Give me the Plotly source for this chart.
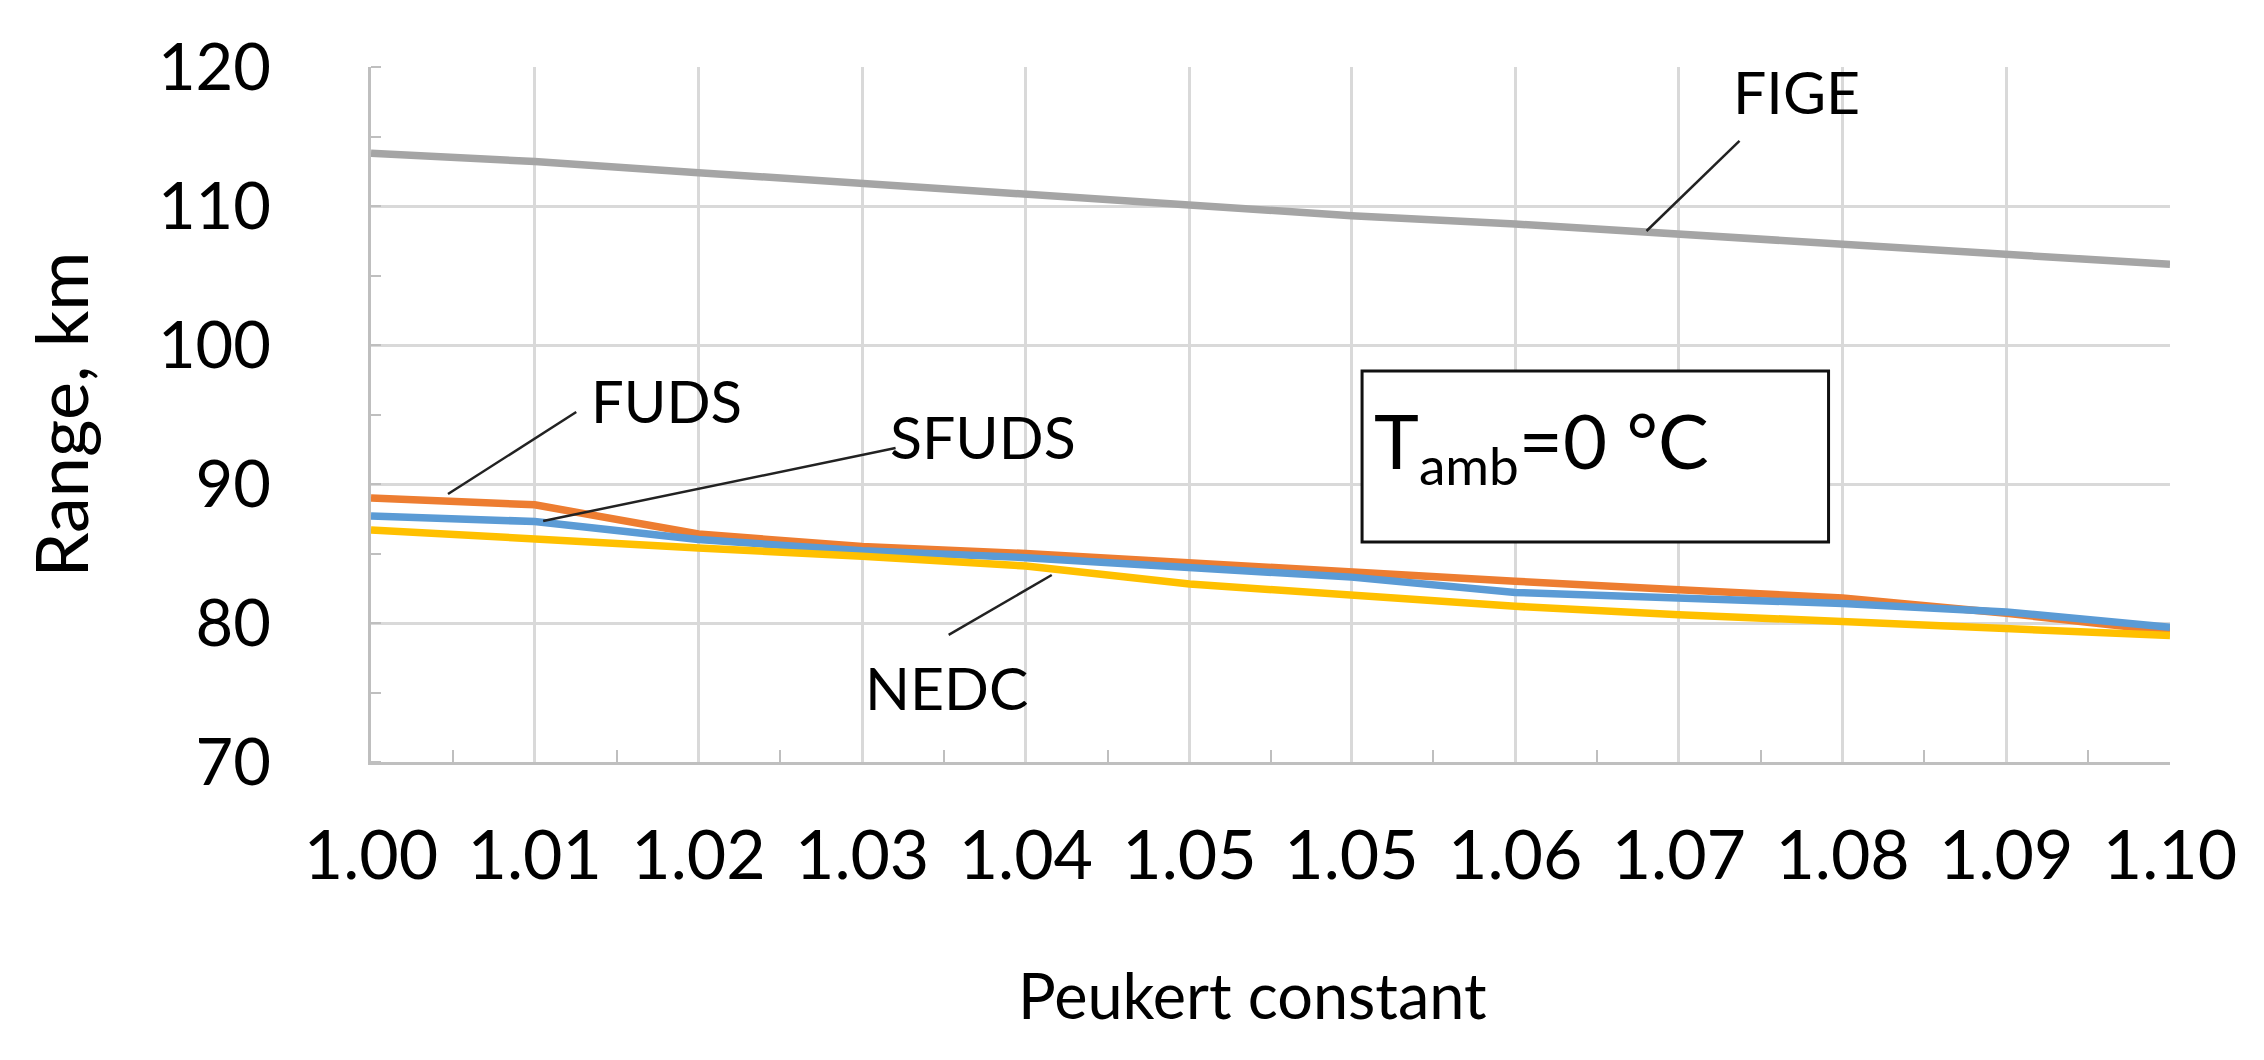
import plotly.graph_objects as go

# ---- data -------------------------------------------------------------
peukert = [1.0000, 1.0091, 1.0182, 1.0273, 1.0364, 1.0455,
           1.0545, 1.0636, 1.0727, 1.0818, 1.0909, 1.1000]
tick_labels = ["1.00", "1.01", "1.02", "1.03", "1.04", "1.05",
               "1.05", "1.06", "1.07", "1.08", "1.09", "1.10"]

fuds = [89.0, 88.5, 86.4, 85.5, 85.0, 84.3, 83.6, 83.0, 82.4, 81.8, 80.7, 79.4]
sfuds = [87.7, 87.3, 86.0, 85.2, 84.7, 84.0, 83.3, 82.2, 81.8, 81.4, 80.8, 79.7]
nedc = [86.7, 86.0, 85.4, 84.8, 84.1, 82.8, 82.0, 81.2, 80.6, 80.1, 79.5, 79.1]
fige = [113.8, 113.2, 112.4, 111.6, 110.8, 110.0, 109.3, 108.7, 108.0, 107.2, 106.5, 105.8]

series_names = ["FUDS", "SFUDS", "NEDC", "FIGE"]
series_values = [fuds, sfuds, nedc, fige]
series_colors = ["#ED7D31", "#5B9BD5", "#FFC000", "#A5A5A5"]

FONT = "Lato"
GRID = "#D9D9D9"
AXIS = "#BFBFBF"

fig = go.Figure()
for name, vals, col in zip(series_names, series_values, series_colors):
    fig.add_trace(go.Scatter(x=peukert, y=vals, mode="lines", name=name,
                             line=dict(color=col, width=7.5), showlegend=False))

mid_ticks = [(a + b) / 2 for a, b in zip(peukert[:-1], peukert[1:])]

fig.update_xaxes(range=[1.0, 1.1], tickmode="array", tickvals=peukert, ticktext=tick_labels,
                 showgrid=True, gridcolor=GRID, gridwidth=3, zeroline=False,
                 showline=True, linecolor=AXIS, linewidth=3, ticks="",
                 ticklabelstandoff=32,
                 tickfont=dict(family=FONT, size=68, color="#000000"),
                 minor=dict(tickmode="array", tickvals=mid_ticks, ticks="inside",
                            ticklen=12, tickwidth=2, tickcolor=AXIS, showgrid=False))
fig.update_yaxes(range=[70, 120], tickmode="array", tickvals=[70, 80, 90, 100, 110, 120],
                 showgrid=True, gridcolor=GRID, gridwidth=3, zeroline=False,
                 showline=True, linecolor=AXIS, linewidth=3, ticks="",
                 ticklabelstandoff=84,
                 tickfont=dict(family=FONT, size=65, color="#000000"),
                 minor=dict(dtick=5, tick0=75, ticks="inside", ticklen=10, tickwidth=2,
                            tickcolor=AXIS, showgrid=False))

# leader lines (label -> curve)
leaders = [
    (1.00428, 89.28, 1.01141, 95.18),
    (1.00957, 87.34, 1.02916, 92.59),
    (1.03211, 79.14, 1.03784, 83.45),
    (1.07090, 108.20, 1.07607, 114.68),
]
for x0, y0, x1, y1 in leaders:
    fig.add_shape(type="line", x0=x0, y0=y0, x1=x1, y1=y1, xref="x", yref="y",
                  line=dict(color="#222222", width=2.5), layer="above")

# temperature box
fig.add_shape(type="rect", x0=1.05509, x1=1.08102, y0=85.83, y1=98.13, xref="x", yref="y",
              fillcolor="white", line=dict(color="#111111", width=3), layer="above")

annos = [
    dict(x=1.01642, y=95.18, text="FUDS", xanchor="center", size=58, xs=0, ys=12),
    dict(x=1.02916, y=92.59, text="SFUDS", xanchor="left", size=59, xs=-8, ys=12),
    dict(x=1.03222, y=74.53, text="NEDC", xanchor="center", size=59, xs=-4, ys=12),
    dict(x=1.07935, y=117.34, text="FIGE", xanchor="center", size=59, xs=-2, ys=12),
    dict(x=1.05648, y=91.51, text="T<sub>amb</sub>=0 °C", xanchor="left", size=76, xs=-15, ys=18),
]
for a in annos:
    fig.add_annotation(x=a["x"], y=a["y"], xref="x", yref="y", text=a["text"],
                       showarrow=False, xanchor=a["xanchor"], yanchor="middle",
                       xshift=a["xs"], yshift=a["ys"],
                       font=dict(family=FONT, size=a["size"], color="#000000"))

# axis titles
fig.add_annotation(x=0.5, y=0, xref="paper", yref="paper", yshift=-232, xshift=-18,
                   text="Peukert constant", showarrow=False, xanchor="center", yanchor="middle",
                   font=dict(family=FONT, size=63, color="#000000"))
fig.add_annotation(x=0, y=0.5, xref="paper", yref="paper", xshift=-312, text="Range, km",
                   textangle=-90, showarrow=False, xanchor="center", yanchor="middle",
                   font=dict(family=FONT, size=72, color="#000000"))

fig.update_layout(width=2264, height=1060, margin=dict(l=363, r=102, t=59, b=306),
                  paper_bgcolor="white", plot_bgcolor="white", showlegend=False)

fig.write_html("out.html")
